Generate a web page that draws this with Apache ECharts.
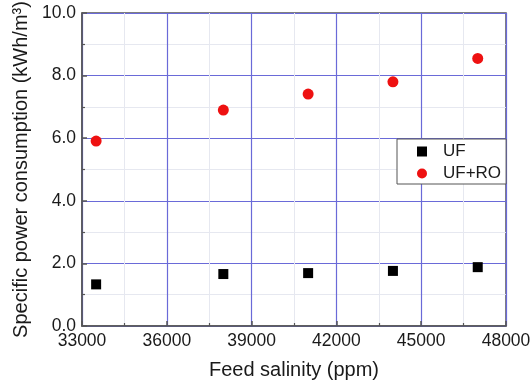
<!DOCTYPE html>
<html>
<head>
<meta charset="utf-8">
<script src="https://cdn.jsdelivr.net/npm/echarts@6/dist/echarts.min.js"></script>
<style>html,body{margin:0;padding:0;background:#fff;}#c{width:531px;height:385px;}</style>
</head>
<body>
<div id="c"></div>
<script>
const salinity = [33500, 38000, 41000, 44000, 47000];
const ufValues = [1.33, 1.66, 1.69, 1.76, 1.88];
const uforoValues = [5.91, 6.90, 7.41, 7.80, 8.55];
const seriesNames = ['UF', 'UF+RO'];
const xName = 'Feed salinity (ppm)';
const yName = 'Specific power consumption (kWh/m³)';

const font = 'Liberation Sans, Arial, sans-serif';
const chart = echarts.init(document.getElementById('c'), null, {renderer: 'canvas'});
chart.setOption({
  animation: false,
  backgroundColor: '#fff',
  grid: {left: 82, top: 13, width: 424, height: 313, outerBoundsMode: 'none', containLabel: false,
         show: true, borderColor: '#555', borderWidth: 1.5, backgroundColor: 'transparent'},
  legend: {
    orient: 'vertical', left: 397, top: 139, padding: [4, 5, 2, 20], itemGap: 5,
    itemWidth: 10, itemHeight: 10, borderColor: '#555', borderWidth: 1, backgroundColor: '#fff',
    textStyle: {fontFamily: font, fontSize: 17, lineHeight: 16, color: '#1a1a1a', padding: [0, 0, 0, 11]},
    data: [{name: seriesNames[0], icon: 'rect'}, {name: seriesNames[1], icon: 'circle'}]
  },
  xAxis: {
    type: 'value', min: 33000, max: 48000, interval: 3000,
    name: xName, nameLocation: 'middle', nameGap: 34,
    nameTextStyle: {fontFamily: font, fontSize: 20, color: '#1a1a1a'},
    axisLine: {show: true, lineStyle: {color: '#555', width: 1.5}},
    axisTick: {show: true, inside: true, length: 5, lineStyle: {color: '#555', width: 1.5}},
    minorTick: {show: true, splitNumber: 2, length: 3, lineStyle: {color: '#555', width: 1.2}},
    axisLabel: {fontFamily: font, fontSize: 17.5, color: '#1a1a1a', margin: 6, formatter: v => String(v)},
    splitLine: {show: true, lineStyle: {color: '#6a6ad8', width: 1.2}},
    minorSplitLine: {show: true, lineStyle: {color: '#e6e8f0', width: 1}}
  },
  yAxis: {
    type: 'value', min: 0, max: 10, interval: 2,
    name: yName, nameLocation: 'middle', nameGap: 46,
    nameTextStyle: {fontFamily: font, fontSize: 20, color: '#1a1a1a'},
    axisLine: {show: true, lineStyle: {color: '#555', width: 1.5}},
    axisTick: {show: true, inside: true, length: 5, lineStyle: {color: '#555', width: 1.5}},
    minorTick: {show: true, splitNumber: 2, length: 3, lineStyle: {color: '#555', width: 1.2}},
    axisLabel: {fontFamily: font, fontSize: 17.5, color: '#1a1a1a', margin: 6, formatter: v => v.toFixed(1)},
    splitLine: {show: true, lineStyle: {color: '#6a6ad8', width: 1.2}},
    minorSplitLine: {show: true, lineStyle: {color: '#e6e8f0', width: 1}}
  },
  series: [
    {name: seriesNames[0], type: 'scatter', symbol: 'rect', symbolSize: 10,
     itemStyle: {color: '#000', opacity: 1}, data: salinity.map((x, i) => [x, ufValues[i]])},
    {name: seriesNames[1], type: 'scatter', symbol: 'circle', symbolSize: 11,
     itemStyle: {color: '#ee1111', opacity: 1}, data: salinity.map((x, i) => [x, uforoValues[i]])}
  ]
});
</script>
</body>
</html>
